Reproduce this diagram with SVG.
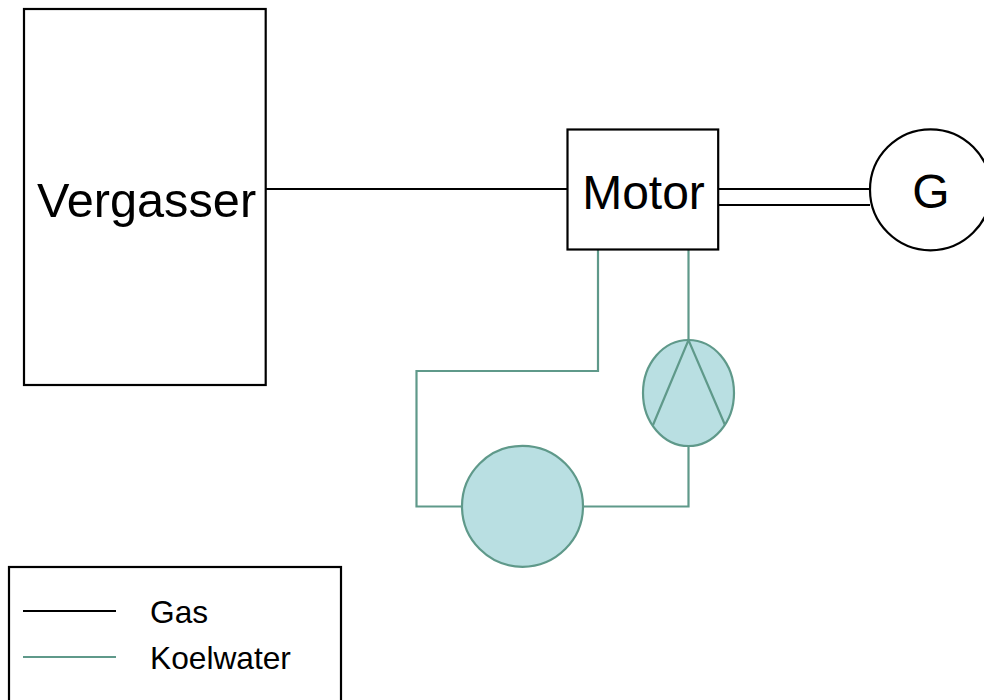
<svg xmlns="http://www.w3.org/2000/svg" width="984" height="700" viewBox="0 0 984 700">
<style>
text{font-family:"Liberation Sans",Arial,sans-serif;fill:#000}
.k{fill:none;stroke:#000;stroke-width:2.200}
.w{fill:#fff;stroke:#000;stroke-width:2.200}
.c{fill:none;stroke:#5f998a;stroke-width:2.200}
.f{fill:#b9dfe2;stroke:#5f998a;stroke-width:2.200}
.big{font-size:48px}
.leg{font-size:31.700px}
</style>
<rect width="984" height="700" fill="#fff"/>
<g id="connectors">
<path class="k" d="M266 189H567"/>
<path class="k" d="M718 189H870M718 205H870"/>
<path class="c" d="M598 250V371H416.500V506.500H462"/>
<path class="c" d="M688.500 250V340"/>
<path class="c" d="M688.500 446V506.500H583"/>
</g>
<g id="vergasser"><rect class="w" x="24" y="9" width="241.700" height="376"/><text class="big" x="146.500" y="216.500" text-anchor="middle" style="font-size:48.700px">Vergasser</text></g>
<g id="motor"><rect class="w" x="567.500" y="129.500" width="150.700" height="120"/><text class="big" x="643.500" y="208.500" text-anchor="middle">Motor</text></g>
<g id="generator"><circle class="w" cx="930.500" cy="189.800" r="60.500"/><text class="big" x="931" y="207.500" text-anchor="middle">G</text></g>
<g id="pump"><ellipse class="f" cx="688.500" cy="393" rx="45.500" ry="53"/><path class="c" d="M653 425L688.500 340L725 425"/></g>
<g id="cooler"><circle class="f" cx="522.500" cy="506.300" r="60.500"/></g>
<g id="legend"><rect class="k" x="9" y="567" width="332" height="140"/>
<path class="k" d="M23 611H116"/><path class="c" d="M23 657H116"/>
<text class="leg" x="150" y="623">Gas</text><text class="leg" x="150" y="669">Koelwater</text></g>
</svg>
